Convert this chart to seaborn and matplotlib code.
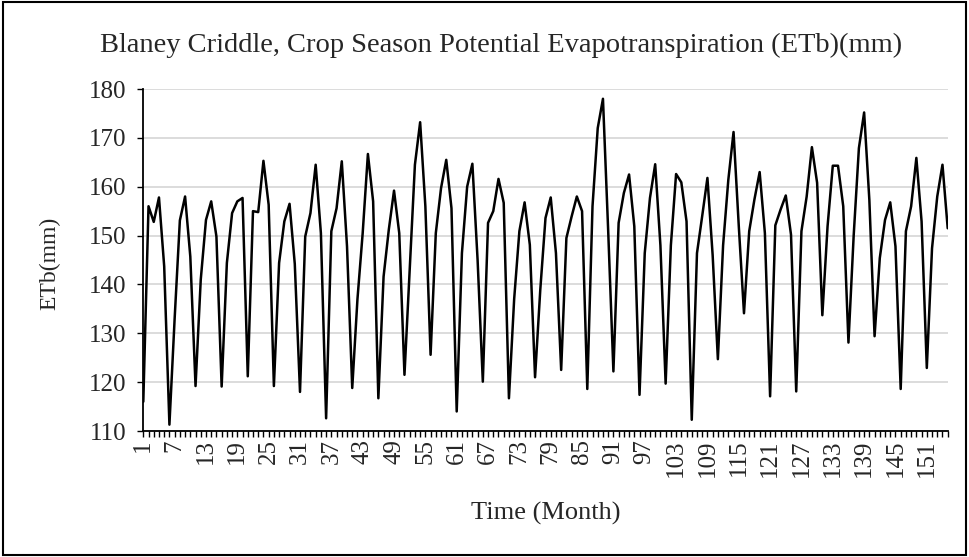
import matplotlib
matplotlib.use("Agg")
import matplotlib.pyplot as plt
import seaborn as sns
import pandas as pd
from matplotlib.patches import Rectangle

# Monthly crop-season potential evapotranspiration (Blaney-Criddle), mm
etb_mm = [
    116.0, 156.0, 152.8, 157.8, 143.7, 111.3, 133.0, 153.1, 158.0, 145.7,
    119.2, 141.0, 153.2, 157.0, 149.8, 119.1, 144.4, 154.6, 157.0, 157.7,
    121.2, 155.0, 154.8, 165.3, 156.3, 119.2, 144.4, 152.9, 156.5, 144.2,
    118.0, 149.8, 154.6, 164.5, 150.5, 112.6, 150.9, 155.6, 165.2, 147.8,
    118.8, 137.0, 150.5, 166.7, 157.0, 116.7, 141.6, 151.2, 159.2, 150.5,
    121.5, 143.0, 164.5, 173.2, 156.0, 125.6, 150.5, 159.7, 165.5, 155.6,
    114.0, 146.4, 160.0, 164.7, 145.0, 120.1, 152.6, 155.0, 161.6, 156.7,
    116.7, 137.0, 150.9, 156.8, 148.1, 121.0, 138.9, 153.6, 157.8, 146.4,
    122.5, 149.5, 153.9, 158.0, 155.0, 118.6, 156.0, 172.0, 178.0, 151.0,
    122.2, 152.6, 158.7, 162.5, 151.9, 117.4, 146.4, 157.7, 164.6, 148.0,
    119.7, 148.0, 162.6, 160.9, 152.9, 112.3, 146.4, 154.0, 161.8, 146.0,
    124.7, 148.0, 161.4, 171.2, 152.0, 134.1, 150.9, 157.4, 163.0, 150.5,
    117.1, 152.1, 155.3, 158.2, 150.2, 118.1, 150.9, 158.0, 168.1, 160.8,
    133.7, 151.9, 164.3, 164.3, 156.0, 128.1, 150.0, 167.9, 175.2, 157.3,
    129.4, 145.4, 153.2, 156.8, 147.8, 118.6, 150.9, 156.0, 165.9, 152.9,
    122.9, 147.4, 158.0, 164.5, 151.5,
]
months = list(range(1, len(etb_mm) + 1))
y_ticks = [110, 120, 130, 140, 150, 160, 170, 180]
x_label_step = 6

title = "Blaney Criddle, Crop Season Potential Evapotranspiration (ETb)(mm)"
x_title = "Time (Month)"
y_title = "ETb(mm)"

sns.set_theme(style="white")
plt.rcParams["font.family"] = ["Liberation Serif", "DejaVu Serif"]

W, H = 969, 557
fig = plt.figure(figsize=(W / 100, H / 100), dpi=100)
fig.patch.set_facecolor("white")

ax = fig.add_axes([143.3 / W, 1 - 431 / H, (947.7 - 143.3) / W, (431 - 89) / H])

df = pd.DataFrame({"month": months, "etb": etb_mm})
sns.lineplot(data=df, x="month", y="etb", ax=ax, color="black", linewidth=1.8)

ax.set_xlim(1, len(months))
ax.set_ylim(y_ticks[0], y_ticks[-1])
ax.set_yticks(y_ticks)
ax.set_yticklabels([str(v) for v in y_ticks], fontsize=18)

ax.set_xticks(months)
ax.set_xticklabels([str(m) if (m - 1) % x_label_step == 0 else "" for m in months],
                   rotation=90, fontsize=18)

ax.grid(axis="y", color="#d9d9d9", linewidth=1.3)
ax.grid(axis="x", visible=False)
ax.set_axisbelow(True)

for side in ("top", "right"):
    ax.spines[side].set_visible(False)
for side in ("left", "bottom"):
    ax.spines[side].set_visible(True)
    ax.spines[side].set_color("black")
    ax.spines[side].set_linewidth(1.3)

ax.tick_params(axis="x", direction="out", length=4, width=1.0, color="black", pad=2,
               bottom=True)
ax.tick_params(axis="y", direction="out", length=4, width=1.0, color="black", pad=8,
               left=True)

ax.set_xlabel("")
ax.set_ylabel("")
fig.text(545.5 / W, 1 - 513 / H, x_title, ha="center", va="center", fontsize=19)
fig.text(50 / W, 1 - 263 / H, y_title, ha="center", va="center", rotation=90,
         fontsize=17)

fig.text(501.5 / W, 1 - 45 / H, title, ha="center", va="center", fontsize=20.5)

# chart-area frame
fig.patches.append(Rectangle((3 / W, 2 / H), (966 - 3) / W, (555 - 2) / H,
                             transform=fig.transFigure, fill=False,
                             edgecolor="black", linewidth=1.5))

fig.savefig("out.png", dpi=100, facecolor="white")
